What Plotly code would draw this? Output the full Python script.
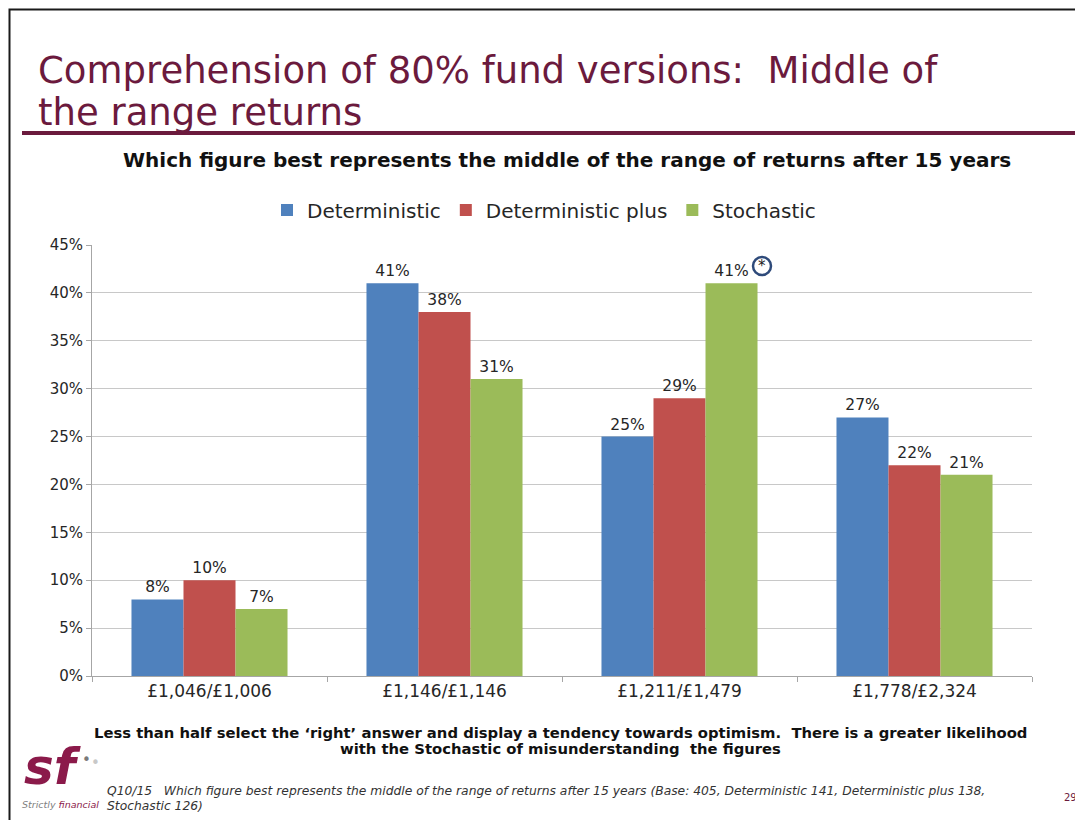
import plotly.graph_objects as go

categories = ["£1,046/£1,006", "£1,146/£1,146", "£1,211/£1,479", "£1,778/£2,324"]
deterministic = [8, 41, 25, 27]
deterministic_plus = [10, 38, 29, 22]
stochastic = [7, 31, 41, 21]
series_names = ["Deterministic", "Deterministic plus", "Stochastic"]
colors = ["#4F81BD", "#C0504D", "#9BBB59"]
y_ticks = [0, 5, 10, 15, 20, 25, 30, 35, 40, 45]

# page geometry (browser body has an 8px margin)
OFF = 8
PW, PH = 1083, 820
L, R, T, B = 92, 1032, 245, 676


def px(x):
    return (x - L) / (R - L)


def py(y):
    return (B - y) / (B - T)


FONT = "DejaVu Sans"
fig = go.Figure()
for name, vals, col in zip(series_names, [deterministic, deterministic_plus, stochastic], colors):
    fig.add_trace(go.Bar(
        x=categories, y=vals, name=name, marker_color=col, marker_line_width=0,
        text=[f"{v}%" for v in vals], textposition="outside",
        textfont=dict(family=FONT, size=15.5, color="#262626"),
        cliponaxis=False,
    ))

maroon = "#6B1A3D"
fig.update_layout(
    width=PW - OFF, height=PH - OFF,
    margin=dict(l=L - OFF, r=PW - R, t=T - OFF, b=PH - B),
    paper_bgcolor="white", plot_bgcolor="white",
    barmode="group", bargap=0.336, bargroupgap=0,
    font=dict(family=FONT, color="#262626"),
    legend=dict(orientation="h", x=px(544), xanchor="center", y=py(210), yanchor="middle",
                font=dict(family=FONT, size=20, color="#262626"),
                itemwidth=30, traceorder="normal"),
    showlegend=True,
)
fig.update_yaxes(range=[0, 45], tickvals=y_ticks, ticktext=[f"{v}%" for v in y_ticks],
                 showgrid=True, gridcolor="#C8C8C8", gridwidth=1,
                 showline=True, linecolor="#A6A6A6", ticks="outside", ticklen=5, tickcolor="#A6A6A6",
                 tickfont=dict(size=15, color="#262626"), zeroline=False)
fig.update_xaxes(showline=True, linecolor="#A6A6A6", ticks="outside", ticklen=5, tickcolor="#A6A6A6",
                 tickson="boundaries", tickfont=dict(size=17, color="#262626"))

ann = []


def text(x, y, s, size, color="#111111", xanchor="left", family=FONT):
    ann.append(dict(x=px(x), y=py(y), xref="paper", yref="paper", xanchor=xanchor, yanchor="middle",
                    showarrow=False, text=s, font=dict(family=family, size=size, color=color)))


text(36, 70, "Comprehension of 80% fund versions:  Middle of", 37, maroon)
text(36, 112, "the range returns", 37, maroon)
text(567, 160, "<b>Which figure best represents the middle of the range of returns after 15 years</b>", 20,
     xanchor="center")
text(560, 732, "<b>Less than half select the ‘right’ answer and display a tendency towards optimism.  There is a greater likelihood</b>",
     14.8, xanchor="center")
text(560, 748, "<b>with the Stochastic of misunderstanding  the figures</b>", 14.8, xanchor="center")
text(105, 791, "<i>Q10/15   Which figure best represents the middle of the range of returns after 15 years (Base: 405, Deterministic 141, Deterministic plus 138,</i>",
     12.3, "#333333")
text(105, 806, "<i>Stochastic 126)</i>", 12.3, "#333333")
text(1070, 797, "29", 10, maroon, xanchor="center")
text(52, 767, "<b><i>sf</i></b>", 50, "#8B1A4A", xanchor="center")
text(86, 760, "•", 15, "#7A7A7A", xanchor="center")
text(95, 763, "•", 15, "#C8C8C8", xanchor="center")
text(60, 804, "<i><span style='color:#808080'>Strictly </span><span style='color:#8B1A4A'>financial</span></i>",
     9.5, xanchor="center")
text(762, 266, "*", 15, "#222222", xanchor="center")
fig.update_layout(annotations=ann)

shapes = []
shapes.append(dict(type="rect", xref="paper", yref="paper", x0=px(9.5), x1=px(1100), y0=py(9.5), y1=py(840),
                   line=dict(color="#1A1A1A", width=2), fillcolor="rgba(0,0,0,0)", layer="above"))
shapes.append(dict(type="line", xref="paper", yref="paper", x0=px(22), x1=px(1075), y0=py(133), y1=py(133),
                   line=dict(color=maroon, width=4)))
shapes.append(dict(type="circle", xref="paper", yref="paper", x0=px(753), x1=px(771), y0=py(257), y1=py(275),
                   line=dict(color="#2E4A7A", width=2.5)))
fig.update_layout(shapes=shapes)

fig.write_html("out.html")
